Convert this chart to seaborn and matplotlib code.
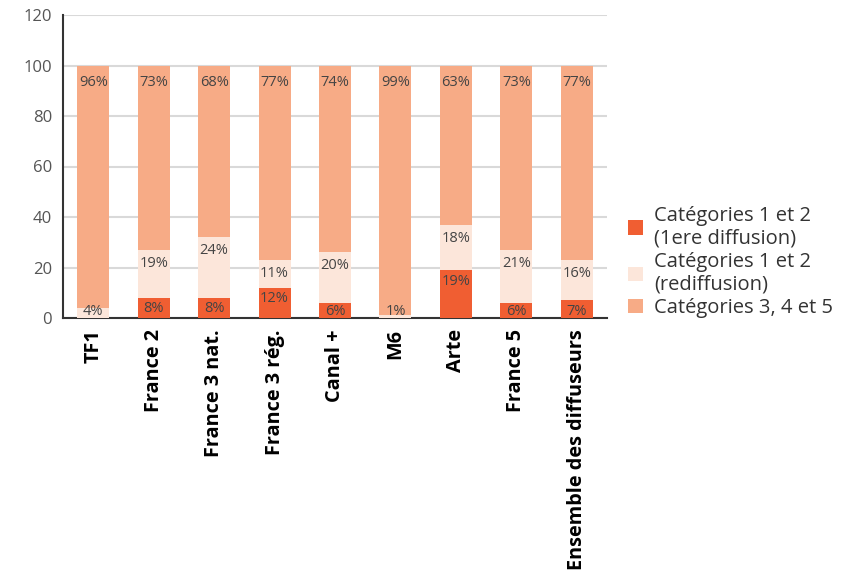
import numpy as np
import matplotlib
matplotlib.use("Agg")
import matplotlib.pyplot as plt
import seaborn as sns
from matplotlib.patches import Patch

# Data
chaines = ["TF1", "France 2", "France 3 nat.", "France 3 rég.", "Canal +",
           "M6", "Arte", "France 5", "Ensemble des diffuseurs"]
cat12_premiere = [0, 8, 8, 12, 6, 0, 19, 6, 7]
cat12_rediff = [4, 19, 24, 11, 20, 1, 18, 21, 16]
cat345 = [96, 73, 68, 77, 74, 99, 63, 73, 77]

series_names = ["Catégories 1 et 2\n(1ere diffusion)",
                "Catégories 1 et 2\n(rediffusion)",
                "Catégories 3, 4 et 5"]
colors = ["#F05E32", "#FCE6DA", "#F7AB86"]

sns.set_style("white")
plt.rcParams["font.family"] = ["Open Sans", "DejaVu Sans"]

fig = plt.figure(figsize=(8.47, 5.72), dpi=100)
ax = fig.add_axes([63 / 847, 1 - 318 / 572, 544 / 847, 303 / 572])

b1 = np.array(cat12_premiere)
b2 = b1 + np.array(cat12_rediff)
bottoms = [np.zeros(len(chaines)), b1, b2]
values = [cat12_premiere, cat12_rediff, cat345]
label_offset = [1.4, 2.4, 3.6]

for vals, bot, col in zip(values, bottoms, colors):
    sns.barplot(x=chaines, y=vals, bottom=bot, color=col, width=0.53,
                saturation=1, linewidth=0, ax=ax, zorder=3)

# percentage labels just under the top of each segment
for vals, bot, off in zip(values, bottoms, label_offset):
    for i, (v, b) in enumerate(zip(vals, bot)):
        if v == 0:
            continue
        y = max(b + v - off, 5.6)
        ax.text(i, y, f"{v}%", ha="center", va="top", fontsize=10.5,
                color="#444444", zorder=4)

ax.set_xlim(-0.5, len(chaines) - 0.5)
ax.set_ylim(0, 120)
ax.set_yticks(range(0, 121, 20))
ax.yaxis.grid(True, color="#D9D9D9", linewidth=1.5, zorder=0)
ax.set_axisbelow(True)

for s in ["top", "right"]:
    ax.spines[s].set_visible(False)
for s in ["left", "bottom"]:
    ax.spines[s].set_color("#333333")
    ax.spines[s].set_linewidth(1.5)

ax.tick_params(axis="y", length=0, labelsize=12, labelcolor="#555555", pad=8)
ax.tick_params(axis="x", which="major", length=0, pad=8)
ax.set_xticks(np.arange(0.5, len(chaines) - 0.5 + 1e-9, 1.0), minor=True)
ax.tick_params(axis="x", which="minor", direction="in", length=5,
               width=1.3, color="#333333")
ax.set_xticklabels(chaines, rotation=90, fontsize=14.3, fontweight="bold",
                   color="black")

handles = [Patch(facecolor=c, edgecolor="none") for c in colors]
fig.legend(handles, series_names, loc="lower left",
           bbox_to_anchor=(618 / 847, 1 - 328 / 572), frameon=False,
           fontsize=14.5, handlelength=0.75, handleheight=0.75,
           handletextpad=0.55, labelspacing=0.15, borderpad=0,
           labelcolor="#333333")

fig.savefig("out.png", dpi=100)
